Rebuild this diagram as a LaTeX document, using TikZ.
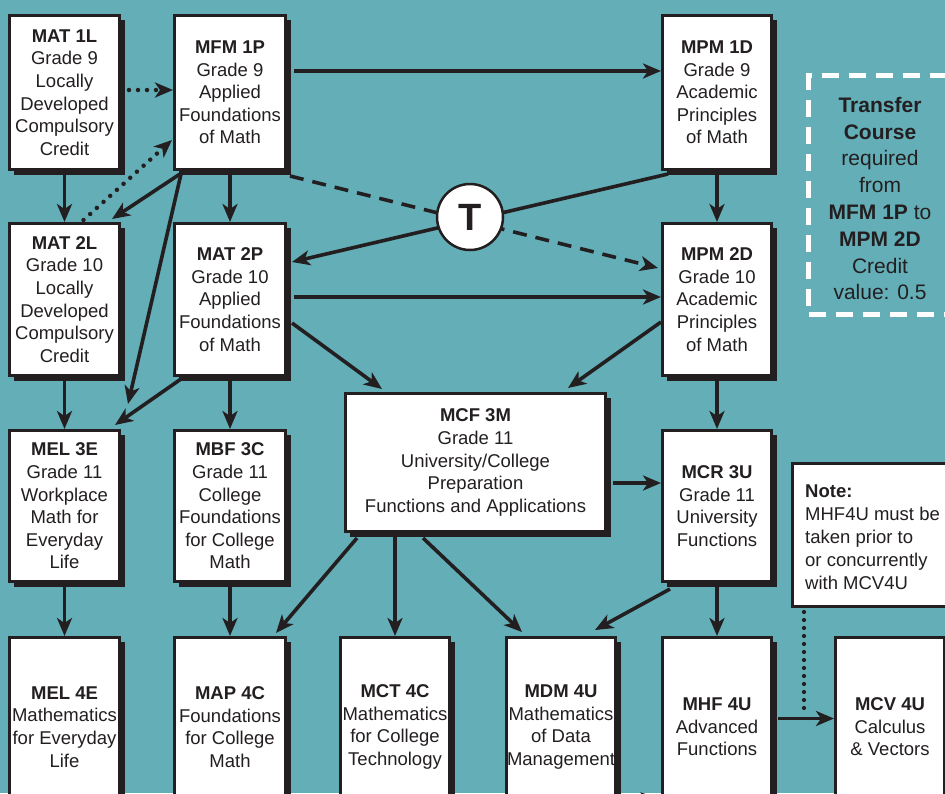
\documentclass[tikz,border=0pt]{standalone}
\usepackage{fontspec}
\setmainfont{Liberation Sans}
\usetikzlibrary{arrows.meta,shadows,calc}
\definecolor{bg}{RGB}{100,174,184}
\definecolor{ink}{RGB}{35,31,32}
\begin{document}
\begin{tikzpicture}[x=1pt,y=-1pt,
 course/.style={draw=ink, line width=2.6pt, fill=white, inner sep=0pt, align=center, text=ink,
   font=\fontsize{18.5}{22.6}\selectfont,
   drop shadow={shadow xshift=5pt, shadow yshift=-5pt, fill=ink, opacity=1}},
 colA/.style={course, minimum width=110.4pt},
 colB/.style={course, minimum width=111.4pt},
 colD/.style={course, minimum width=109.4pt},
 rowone/.style={minimum height=154.4pt},
 rowtwo/.style={minimum height=152.4pt},
 rowthree/.style={minimum height=151.4pt},
 rowfour/.style={minimum height=179.4pt},
 arr/.style={draw=ink, line width=3.6pt, -{Stealth[length=18pt,width=15pt,inset=5pt]}},
 dotarr/.style={arr, line width=4.5pt, line cap=round, dash pattern=on 0pt off 9pt},
 dasharr/.style={arr, dash pattern=on 14pt off 9pt},
 dotline/.style={draw=ink, line width=4.2pt, line cap=round, dash pattern=on 0pt off 8pt},
]
\useasboundingbox (0,0) rectangle (945,793);
\fill[bg] (0,0) rectangle (945,793);
\clip (0,0) rectangle (945,793);

% row 1
\node[colA, rowone] (mat1l) at (64.5,92.5) {\textbf{MAT 1L}\\Grade 9\\Locally\\Developed\\Compulsory\\Credit};
\node[colB, rowone] (mfm1p) at (230,92.5) {\textbf{MFM 1P}\\Grade 9\\Applied\\Foundations\\of Math};
\node[colD, rowone] (mpm1d) at (717,92.5) {\textbf{MPM 1D}\\Grade 9\\Academic\\Principles\\of Math};
% row 2
\node[colA, rowtwo] (mat2l) at (64.5,299.5) {\textbf{MAT 2L}\\Grade 10\\Locally\\Developed\\Compulsory\\Credit};
\node[colB, rowtwo] (mat2p) at (230,299.5) {\textbf{MAT 2P}\\Grade 10\\Applied\\Foundations\\of Math};
\node[colD, rowtwo] (mpm2d) at (717,299.5) {\textbf{MPM 2D}\\Grade 10\\Academic\\Principles\\of Math};
% row 3
\node[colA, rowthree] (mel3e) at (64.5,506) {\textbf{MEL 3E}\\Grade 11\\Workplace\\Math for\\Everyday\\Life};
\node[colB, rowthree] (mbf3c) at (230,506) {\textbf{MBF 3C}\\Grade 11\\College\\Foundations\\for College\\Math};
\node[course, minimum width=260.4pt, minimum height=138.4pt] (mcf3m) at (475.5,462.5) {\textbf{MCF 3M}\\Grade 11\\University/College\\Preparation\\Functions and Applications};
\node[colD, rowthree] (mcr3u) at (717,506) {\textbf{MCR 3U}\\Grade 11\\University\\Functions};
% row 4
\node[colA, rowfour] (mel4e) at (64.5,727) {\textbf{MEL 4E}\\Mathematics\\for Everyday\\Life};
\node[colB, rowfour] (map4c) at (230,727) {\textbf{MAP 4C}\\Foundations\\for College\\Math};
\node[colD, rowfour] (mct4c) at (395,727) {\textbf{MCT 4C}\\Mathematics\\for College\\Technology};
\node[colD, rowfour] (mdm4u) at (561,727) {\textbf{MDM 4U}\\Mathematics\\of Data\\Management};
\node[colD, rowfour] (mhf4u) at (717,727) {\textbf{MHF 4U}\\Advanced\\Functions};
\node[colD, rowfour] (mcv4u) at (890,727) {\textbf{MCV 4U}\\Calculus\\\& Vectors};

% note box
\node[draw=ink, line width=3pt, fill=white, minimum width=166pt, minimum height=143pt, inner sep=0pt] (note) at (875.5,535) {};
\node[anchor=base west, align=left, inner sep=0pt, text=ink, font=\fontsize{18.5}{23}\selectfont] (notetext) at (805,589.5)
  {\textbf{Note:}\\MHF4U must be\\taken prior to\\or concurrently\\with MCV4U};

% transfer box
\node[draw=white, line width=5pt, dash pattern=on 17pt off 10pt, minimum width=179pt, minimum height=239pt, inner sep=0pt] (transfer) at (898,195) {};
\node[align=center, inner sep=0pt, text=ink, font=\fontsize{21}{26.8}\selectfont] (transfertext) at (880,198.5)
  {\textbf{Transfer}\\\textbf{Course}\\required\\from\\\textbf{MFM 1P} to\\\textbf{MPM 2D}\\Credit\\value: 0.5};

% connectors row 1 -> row 2
\draw[dotarr] ($(mat1l.east)+(8,-2.5)$) -- ($(mfm1p.west)+(0,-2.5)$);
\draw[dotarr] ($(mat2l.north)+(19,-2)$) -- ($(mfm1p.west)+(-1,47.5)$);
\draw[arr] ($(mfm1p.south west)+(7,3)$) -- ($(mat2l.north east)+(-9,-3)$);
\draw[arr] ($(mfm1p.south west)+(8,3)$) -- ($(mel3e.north east)+(7,-25)$);
\draw[arr] ($(mat2p.south west)+(8,2)$) -- ($(mel3e.north east)+(-6,-4)$);
\draw[arr] (mat1l.south) -- (mat2l.north);
\draw[arr] (mfm1p.south) -- (mat2p.north);
\draw[arr] ($(mfm1p.east)+(7,-21.5)$) -- ($(mpm1d.west)+(0,-21.5)$);
\draw[dasharr] ($(mfm1p.south east)+(3,5)$) -- ($(mpm2d.west)+(-3,-31.5)$);
\draw[arr] ($(mpm1d.south west)+(7,3)$) -- ($(mat2p.east)+(5,-37.5)$);
\node[circle, draw=ink, fill=white, line width=2.5pt, minimum size=66pt, inner sep=0pt, text=ink, font=\bfseries\fontsize{38}{38}\selectfont] (T) at (470,217) {T};
\draw[arr] (mpm1d.south) -- (mpm2d.north);

% row 2 -> row 3
\draw[arr] ($(mat2p.east)+(7,-2.5)$) -- ($(mpm2d.west)+(0,-2.5)$);
\draw[arr] ($(mat2p.east)+(5,23.5)$) -- ($(mcf3m.north west)+(38,-3)$);
\draw[arr] ($(mpm2d.west)+(0,22.5)$) -- ($(mcf3m.north east)+(-39,-4)$);
\draw[arr] (mat2l.south) -- (mel3e.north);
\draw[arr] (mat2p.south) -- (mbf3c.north);
\draw[arr] (mpm2d.south) -- (mcr3u.north);
\draw[arr] ($(mcf3m.east)+(6,20.5)$) -- ($(mcr3u.west)+(0,-23)$);

% row 3 -> row 4
\draw[arr] (mel3e.south) -- (mel4e.north);
\draw[arr] (mbf3c.south) -- (map4c.north);
\draw[arr] ($(mcf3m.south west)+(13,5)$) -- ($(map4c.north east)+(-11,-3)$);
\draw[arr] (mcf3m.south -| mct4c.north) -- (mct4c.north);
\draw[arr] ($(mcf3m.south west)+(79,5)$) -- ($(mdm4u.north west)+(17,-4)$);
\draw[arr] ($(mcr3u.south west)+(9,6)$) -- ($(mdm4u.north east)+(-22,-6)$);
\draw[arr] (mcr3u.south) -- (mhf4u.north);
\draw[arr] ($(mhf4u.east)+(5,-8.5)$) -- ($(mcv4u.west)+(0,-8.5)$);
\draw[dotline] ($(note.south west)+(13,4)$) -- ($(note.south west)+(13,104)$);
\draw[arr] ($(mdm4u.east)+(5,75)$) -- ($(mhf4u.west)+(-2,71)$);
\end{tikzpicture}
\end{document}
